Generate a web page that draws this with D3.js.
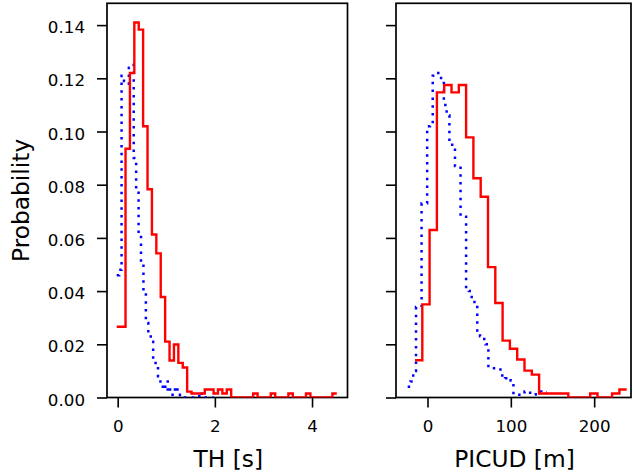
<!DOCTYPE html>
<html><head><meta charset="utf-8">
<script src="https://cdn.jsdelivr.net/npm/d3@7"></script>
<style>body{margin:0;background:#fff} svg{display:block}</style>
</head><body>
<svg id="c" width="633" height="476"></svg>
<script>
// ---------- data ----------
const yTicks = [0, 0.02, 0.04, 0.06, 0.08, 0.10, 0.12, 0.14];
const thTicks = [0, 2, 4];
const picudTicks = [0, 100, 200];
const thLabel = "TH [s]";
const picudLabel = "PICUD [m]";
const yLabel = "Probability";

// TH histogram, red (solid)
const thRedStart = -0.02, thRedWidth = 0.0906;
const thRed = [0.0266,0.0266,0.0935,0.1220,0.1410,0.1383,0.1020,0.0783,0.0613,0.0542,
               0.0378,0.0210,0.0139,0.0199,0.0130,0.0113,0.0022,0.0015,0.0015,0.0015,
               0.0030,0.0030,0.0015,0.0030,0.0015,0.0030,0,0,0,0,
               0,0.0015,0,0,0,0.0015,0,0,0,0.0015,
               0,0,0,0.0015,0,0,0,0,0,0.0015];
// TH histogram, blue (dotted)
const thBlueStart = -0.02, thBlueWidth = 0.05;
const thBlue = [0.046,0.048,0.121,0.119,0.118,0.124,0.125,0.090,0.078,0.061,
                0.050,0.040,0.028,0.024,0.021,0.014,0.011,0.008,0.004,0.003,
                0.006,0.002,0.003,0.001,0.004,0.001,0,0,0,0,
                0,0,0,0,0.002,0,0,0,0,0];
// PICUD histogram, red (solid)
const picudRedStart = -15, picudRedWidth = 8.76;
const picudRed = [0.0140,0.0350,0.0630,0.1147,0.1175,0.1147,0.1175,0.0978,0.0824,0.0755,
                  0.0490,0.0355,0.0214,0.0183,0.0143,0.0101,0.0086,0.0015,0.0015,0.0015,
                  0.0015,0,0,0,0.0015,0,0,0.0015,0.0030];
// PICUD histogram, blue (dotted)
const picudBlueStart = -23.8, picudBlueWidth = 3.34;
const picudBlue = [0.004,0.006,0.010,0.034,0.034,0.073,0.073,0.102,0.103,0.121,
                   0.122,0.121,0.119,0.110,0.106,0.095,0.094,0.087,0.087,0.068,
                   0.068,0.041,0.040,0.037,0.035,0.024,0.023,0.022,0.020,0.011,
                   0.011,0.011,0.0105,0.0105,0.007,0.0072,0.0075,0.0064,0.001,0.001,
                   0.001,0.001,0.0023,0.0023,0.0011,0.0011,0.0023,0.0023,0.0019,0.0019];

// ---------- drawing ----------
const svg = d3.select("#c");
const FONT = "DejaVu Sans, Liberation Sans, sans-serif";
const plotTop = 3.3, plotBottom = 397.5;
const y = d3.scaleLinear().domain([0, 0.1482]).range([plotBottom, plotTop]);

const panels = [
  {id:"th", x0:107, x1:347.5, domain:[-0.22, 4.73], ticks:thTicks, label:thLabel,
   series:[{start:thBlueStart,w:thBlueWidth,v:thBlue,color:"#0000ff",dash:"2.5,5.3"},
           {start:thRedStart,w:thRedWidth,v:thRed,color:"#ff0000",dash:null}], yLabels:true},
  {id:"pc", x0:396, x1:631, domain:[-37.8, 244.2], ticks:picudTicks, label:picudLabel,
   series:[{start:picudBlueStart,w:picudBlueWidth,v:picudBlue,color:"#0000ff",dash:"2.5,5.3"},
           {start:picudRedStart,w:picudRedWidth,v:picudRed,color:"#ff0000",dash:null}], yLabels:false}
];

panels.forEach(p => {
  const x = d3.scaleLinear().domain(p.domain).range([p.x0, p.x1]);
  const g = svg.append("g");
  svg.append("clipPath").attr("id","clip-"+p.id).append("rect")
     .attr("x",p.x0).attr("y",plotTop).attr("width",p.x1-p.x0).attr("height",plotBottom-plotTop);

  // axes
  const xa = g.append("g").attr("transform",`translate(0,${plotBottom})`)
    .call(d3.axisBottom(x).tickValues(p.ticks).tickFormat(d3.format("d")).tickSize(10).tickPadding(13));
  const ya = g.append("g").attr("transform",`translate(${p.x0},0)`)
    .call(d3.axisLeft(y).tickValues(yTicks).tickFormat(p.yLabels ? d3.format(".2f") : () => "").tickSize(10).tickPadding(12));
  [xa, ya].forEach(a => {
    a.select(".domain").remove();
    a.selectAll(".tick line").attr("stroke","#000").attr("stroke-width",1.6);
    a.selectAll("text").attr("fill","#000").style("font-family",FONT).style("font-size","16.7px");
  });
  ya.selectAll("text").attr("dy","0.45em");

  // spines
  g.append("rect").attr("x",p.x0).attr("y",plotTop).attr("width",p.x1-p.x0).attr("height",plotBottom-plotTop)
   .attr("fill","none").attr("stroke","#000").attr("stroke-width",1.7);

  // step lines
  const line = d3.line().x(d => x(d[0])).y(d => y(d[1])).curve(d3.curveStepAfter);
  p.series.forEach(s => {
    const pts = s.v.map((v,i) => [s.start + i*s.w, v]);
    pts.push([s.start + s.v.length*s.w, s.v[s.v.length-1]]);
    g.append("path").attr("d", line(pts)).attr("fill","none")
     .attr("stroke", s.color).attr("stroke-width", s.dash ? 2.5 : 2.4)
     .attr("stroke-dasharray", s.dash).attr("stroke-linejoin","miter")
     .attr("clip-path",`url(#clip-${p.id})`);
  });

  // x label
  svg.append("text").attr("x",(p.x0+p.x1)/2 + 1).attr("y",467).attr("text-anchor","middle")
     .style("font-family",FONT).style("font-size","23.3px").attr("fill","#000").text(p.label);
});

svg.append("text").attr("transform",`translate(29,${(plotTop+plotBottom)/2}) rotate(-90)`)
   .attr("text-anchor","middle").style("font-family",FONT).style("font-size","23.3px")
   .attr("fill","#000").text(yLabel);
</script>
</body></html>
